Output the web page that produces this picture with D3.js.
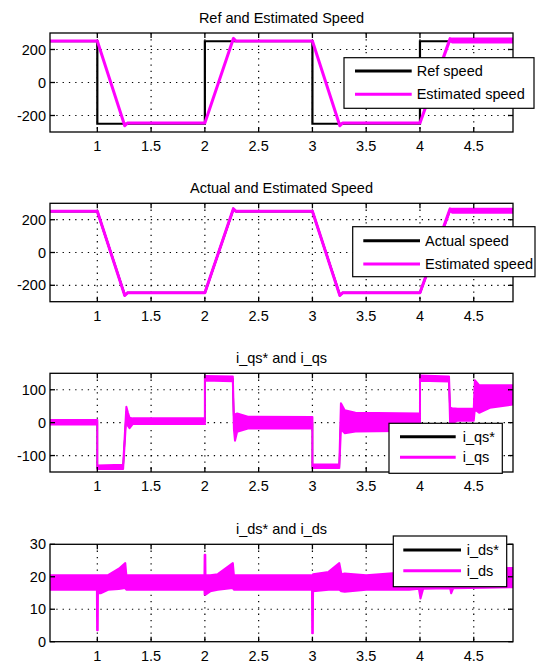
<!DOCTYPE html>
<html>
<head>
<meta charset="utf-8">
<script src="https://cdn.jsdelivr.net/npm/d3@7"></script>
<style>
  body { margin: 0; background: #fff; }
  text { font-family: "Liberation Sans", Arial, sans-serif; fill: #000; }
</style>
</head>
<body>
<svg id="fig" width="541" height="669"></svg>
<script>
// ---- shared axis settings ----
const xDomain = [0.56, 4.865];
const xTicks = [1, 1.5, 2, 2.5, 3, 3.5, 4, 4.5];
const speedTicks = [-200, 0, 200];
const iqsTicks = [-100, 0, 100];
const idsTicks = [0, 10, 20, 30];

// ---- speed signals (rpm) ----
const refSpeedT = [0.56, 1, 1, 2, 2, 3, 3, 4, 4, 4.865];
const refSpeedV = [250, 250, -250, -250, 250, 250, -250, -250, 250, 250];

const estSpeedT  = [0.56, 1.0, 1.255, 1.28, 1.35, 2.0, 2.265, 2.29, 2.4, 3.0, 3.255, 3.28, 3.35, 4.0, 4.28, 4.3, 4.865];
const estSpeedLo = [251, 251, -262, -246, -246, -246, 267, 251, 251, 251, -262, -246, -246, -246, 262, 246, 246];
const estSpeedHi = [251, 251, -262, -246, -246, -246, 267, 251, 251, 251, -262, -246, -246, -246, 266, 263, 263];

const actSpeedT = [0.56, 1.0, 1.255, 1.28, 2.0, 2.265, 2.29, 3.0, 3.255, 3.28, 4.0, 4.28, 4.3, 4.865];
const actSpeedV = [251, 251, -260, -246, -246, 265, 251, 251, -260, -246, -246, 262, 254, 254];

// ---- q-axis current ----
const iqsT  = [0.56, 1.0, 1.0, 1.24, 1.255, 1.27, 1.285, 1.30, 1.33, 2.0, 2.0, 2.26, 2.27, 2.28, 2.30, 2.40, 3.0, 3.0, 3.25, 3.265, 3.30, 3.40, 4.0, 4.0, 4.27, 4.28, 4.30, 4.35, 4.50, 4.51, 4.55, 4.65, 4.865];
const iqsLo = [-6, -6, -141, -141, -60, 20, -10, -17, -4, -4, 128, 126, -20, -55, -28, -18, -17, -138, -138, -20, -32, -27, -25, 127, 125, 0, -2, 6, 6, 40, 30, 45, 55];
const iqsHi = [8, 8, -130, -128, -40, 48, 30, 15, 13, 13, 142, 140, 10, 25, 28, 18, 17, -127, -127, 59, 38, 30, 28, 143, 140, 45, 44, 42, 42, 129, 114, 114, 114];

// reference current, sampled at the same instants as the measured one
const iqsRefV = [1, 1, -135.5, -134.5, -50, 34, 10, -1, 4.5, 4.5, 135, 133, -5, -15, 0, 0, 0, -132.5, -132.5, 20, 3, 1.5, 1.5, 135, 132.5, 22.5, 21, 24, 24, 84.5, 72, 79.5, 84.5];

// ---- d-axis current ----
const idsT  = [0.56, 0.996, 0.998, 1.004, 1.006, 1.03, 1.1, 1.2, 1.26, 1.27, 1.996, 1.998, 2.004, 2.006, 2.05, 2.12, 2.26, 2.27, 2.996, 2.998, 3.004, 3.006, 3.15, 3.25, 3.27, 3.3, 3.5, 3.9, 3.99, 4.005, 4.03, 4.28, 4.29, 4.31, 4.6, 4.865];
const idsLo = [16, 16, 3.5, 3.5, 15, 14.9, 16, 16.2, 16.5, 16, 16, 14.5, 14.5, 14.5, 15.5, 16, 16.5, 16, 16, 2.6, 2.6, 15.5, 16, 16, 15.5, 15.4, 16, 16, 16.3, 13.3, 16.3, 16.5, 14.9, 16.5, 16.6, 16.8];
const idsHi = [20.5, 20.5, 20.5, 20.5, 20.5, 20.5, 20.5, 22.5, 24.2, 20.5, 20.5, 26.8, 26.8, 20.5, 20.5, 20.8, 24.2, 20.5, 20.5, 20.5, 20.5, 20.8, 21.5, 24.2, 20.8, 21, 20.5, 21.5, 21.5, 21.5, 21.8, 22, 22, 22, 22.5, 22.7];

const idsRefT = [0.56, 4.865];
const idsRefV = [18, 18];

const MAGENTA = "#ff00ff";
const svg = d3.select("#fig");

const panels = [
  {
    title: "Ref and Estimated Speed", top: 33, bottom: 132, yDomain: [-300, 300], yTicks: speedTicks,
    lines: [{ t: refSpeedT, v: refSpeedV, color: "#000", w: 2.2 }],
    bands: [{ t: estSpeedT, lo: estSpeedLo, hi: estSpeedHi, color: MAGENTA, w: 3 }],
    legend: { x0: 344, x1: 534, y0: 57.7, y1: 108.3, lx0: 355, lx1: 411.7, tx: 416.7,
      items: [{ label: "Ref speed", color: "#000", y: 71 }, { label: "Estimated speed", color: MAGENTA, y: 94.3 }] }
  },
  {
    title: "Actual and Estimated Speed", top: 203.3, bottom: 301.7, yDomain: [-300, 300], yTicks: speedTicks,
    lines: [{ t: actSpeedT, v: actSpeedV, color: "#000", w: 2.2 }],
    bands: [{ t: estSpeedT, lo: estSpeedLo, hi: estSpeedHi, color: MAGENTA, w: 3 }],
    legend: { x0: 352.7, x1: 535, y0: 226.7, y1: 276.7, lx0: 363.3, lx1: 420, tx: 425,
      items: [{ label: "Actual speed", color: "#000", y: 240.7 }, { label: "Estimated speed", color: MAGENTA, y: 264 }] }
  },
  {
    title: "i_qs* and i_qs", top: 373.3, bottom: 472, yDomain: [-150, 150], yTicks: iqsTicks,
    lines: [{ t: iqsT, v: iqsRefV, color: "#000", w: 1.5 }],
    bands: [{ t: iqsT, lo: iqsLo, hi: iqsHi, color: MAGENTA, w: 2 }],
    legend: { x0: 389, x1: 502.3, y0: 423.3, y1: 473.3, lx0: 400, lx1: 455.7, tx: 462.7,
      items: [{ label: "i_qs*", color: "#000", y: 436.7 }, { label: "i_qs", color: MAGENTA, y: 457.3 }] }
  },
  {
    title: "i_ds* and i_ds", top: 544.3, bottom: 641.7, yDomain: [0, 30], yTicks: idsTicks,
    lines: [{ t: idsRefT, v: idsRefV, color: "#000", w: 2 }],
    bands: [{ t: idsT, lo: idsLo, hi: idsHi, color: MAGENTA, w: 2 }],
    legend: { x0: 393.3, x1: 506.7, y0: 536, y1: 586.7, lx0: 403.3, lx1: 461, tx: 466.7,
      items: [{ label: "i_ds*", color: "#000", y: 550 }, { label: "i_ds", color: MAGENTA, y: 570.7 }] }
  }
];

const LEFT = 50, RIGHT = 513, TICK = 5;
const x = d3.scaleLinear().domain(xDomain).range([LEFT, RIGHT]);

panels.forEach((p, i) => {
  const y = d3.scaleLinear().domain(p.yDomain).range([p.bottom, p.top]);
  const g = svg.append("g");

  const clipId = "clip" + i;
  g.append("clipPath").attr("id", clipId)
    .append("rect").attr("x", LEFT).attr("y", p.top)
    .attr("width", RIGHT - LEFT).attr("height", p.bottom - p.top);

  // dotted grid
  const grid = g.append("g").attr("stroke", "#000").attr("stroke-width", 1.2)
    .attr("stroke-dasharray", "1.3,5");
  xTicks.forEach(t => grid.append("line")
    .attr("x1", x(t)).attr("x2", x(t)).attr("y1", p.top).attr("y2", p.bottom));
  p.yTicks.forEach(v => {
    if (v === p.yDomain[0] || v === p.yDomain[1]) return;
    grid.append("line").attr("x1", LEFT).attr("x2", RIGHT).attr("y1", y(v)).attr("y2", y(v));
  });

  // signals
  const plot = g.append("g").attr("clip-path", `url(#${clipId})`);
  p.lines.forEach(s => {
    const pts = s.t.map((t, k) => [t, s.v[k]]);
    plot.append("path")
      .attr("d", d3.line().x(d => x(d[0])).y(d => y(d[1]))(pts))
      .attr("fill", "none").attr("stroke", s.color).attr("stroke-width", s.w)
      .attr("stroke-linejoin", "miter");
  });
  p.bands.forEach(s => {
    const pts = s.t.map((t, k) => ({ t, lo: s.lo[k], hi: s.hi[k] }));
    plot.append("path")
      .attr("d", d3.area().x(d => x(d.t)).y0(d => y(d.lo)).y1(d => y(d.hi))(pts))
      .attr("fill", s.color).attr("stroke", s.color).attr("stroke-width", s.w)
      .attr("stroke-linejoin", "round");
  });

  // axes box with inward ticks
  const ax = g.append("g").attr("stroke", "#000").attr("stroke-width", 1.3);
  ax.append("rect").attr("x", LEFT).attr("y", p.top)
    .attr("width", RIGHT - LEFT).attr("height", p.bottom - p.top).attr("fill", "none");
  xTicks.forEach(t => {
    ax.append("line").attr("x1", x(t)).attr("x2", x(t)).attr("y1", p.bottom).attr("y2", p.bottom - TICK);
    ax.append("line").attr("x1", x(t)).attr("x2", x(t)).attr("y1", p.top).attr("y2", p.top + TICK);
  });
  p.yTicks.forEach(v => {
    ax.append("line").attr("x1", LEFT).attr("x2", LEFT + TICK).attr("y1", y(v)).attr("y2", y(v));
    ax.append("line").attr("x1", RIGHT).attr("x2", RIGHT - TICK).attr("y1", y(v)).attr("y2", y(v));
  });

  // tick labels
  xTicks.forEach(t => g.append("text").attr("x", x(t)).attr("y", p.bottom + 19)
    .attr("text-anchor", "middle").attr("font-size", 14.5).text(d3.format("~g")(t)));
  p.yTicks.forEach(v => g.append("text").attr("x", LEFT - 4).attr("y", y(v))
    .attr("text-anchor", "end").attr("dominant-baseline", "central")
    .attr("font-size", 14.5).text(v));

  // title
  g.append("text").attr("x", (LEFT + RIGHT) / 2).attr("y", p.top - 10)
    .attr("text-anchor", "middle").attr("font-size", 14.5).text(p.title);

  // legend
  const L = p.legend;
  const lg = g.append("g");
  lg.append("rect").attr("x", L.x0).attr("y", L.y0).attr("width", L.x1 - L.x0).attr("height", L.y1 - L.y0)
    .attr("fill", "#fff").attr("stroke", "#000").attr("stroke-width", 1.2);
  L.items.forEach(it => {
    lg.append("line").attr("x1", L.lx0).attr("x2", L.lx1).attr("y1", it.y).attr("y2", it.y)
      .attr("stroke", it.color).attr("stroke-width", 3);
    lg.append("text").attr("x", L.tx).attr("y", it.y).attr("dominant-baseline", "central")
      .attr("font-size", 14.5).text(it.label);
  });
});
</script>
</body>
</html>
